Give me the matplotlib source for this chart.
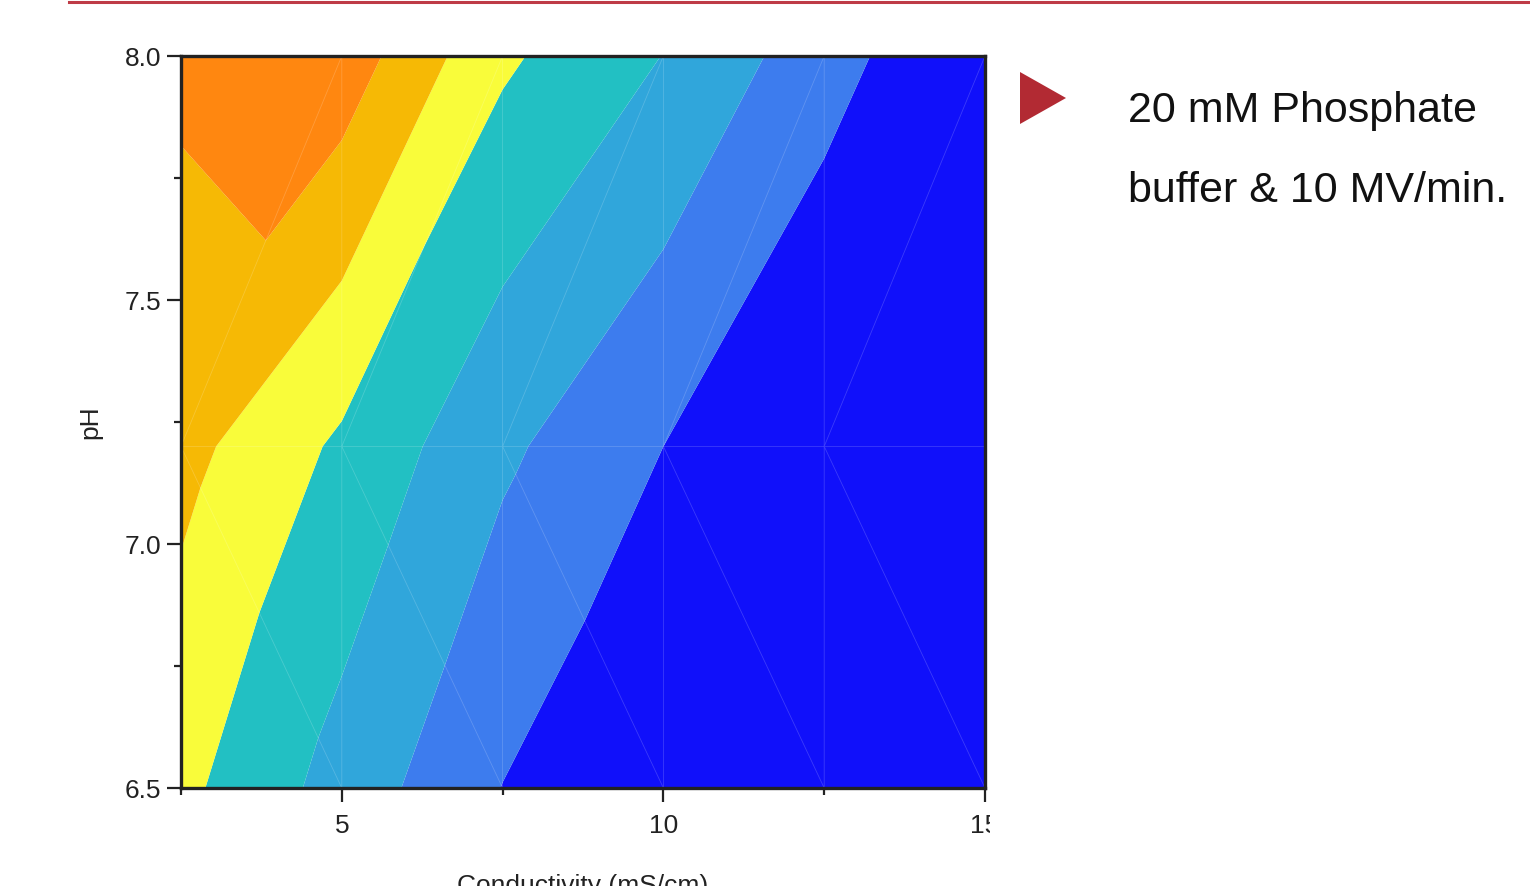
import matplotlib
matplotlib.use("Agg")
import matplotlib.pyplot as plt
import matplotlib.tri as mtri
from matplotlib.lines import Line2D
from matplotlib.patches import Polygon
from matplotlib.transforms import Bbox, TransformedBbox
import numpy as np

plt.rcParams['font.family'] = ['Liberation Sans', 'DejaVu Sans']

# measurement grid: conductivity (mS/cm) x pH
conductivity = [2.5, 5.0, 7.5, 10.0, 12.5, 15.0]
ph = [6.5, 7.2, 8.0]

# response at each grid node, one list per pH row
resp_ph65 = [4.25, 2.60, 0.98, -0.14, -0.60, -1.00]
resp_ph72 = [5.33, 3.82, 2.19, 1.00, -0.18, -0.60]
resp_ph80 = [6.20, 6.60, 4.17, 2.98, 1.42, -0.05]

levels = [-1.5, 1, 2, 3, 4, 5, 6, 7]
band_colors = ['#1010FA', '#3D7CEE', '#30A6DB', '#22C0C3',
               '#F9FC3A', '#F6B905', '#FF8710']

note_lines = ["20 mM Phosphate", "buffer & 10 MV/min."]

W, H = 1530, 886
fig = plt.figure(figsize=(W / 100, H / 100), dpi=100)

# axes box in pixel coords
x0, x1, y0, y1 = 181, 985, 56, 788
ax = fig.add_axes([x0 / W, 1 - y1 / H, (x1 - x0) / W, (y1 - y0) / H])

X, Y = np.meshgrid(conductivity, ph)
Z = np.array([resp_ph65, resp_ph72, resp_ph80])
nx = len(conductivity)

# fixed triangulation: "\" diagonals in the lower row, "/" in the upper row
tris = []
for c in range(nx - 1):
    a, b = c, c + 1
    tris.append([a, b, nx + a])
    tris.append([b, nx + b, nx + a])
    tris.append([nx + a, nx + b, 2 * nx + b])
    tris.append([nx + a, 2 * nx + b, 2 * nx + a])
tri = mtri.Triangulation(X.ravel(), Y.ravel(), tris)

ax.tricontourf(tri, Z.ravel(), levels=levels, colors=band_colors, antialiased=True)
ax.triplot(tri, color='white', lw=0.6, alpha=0.18)

ax.set_xlim(2.5, 15)
ax.set_ylim(6.5, 8.0)
ax.set_xticks([5, 10, 15])
ax.set_xticks([2.5, 7.5, 12.5], minor=True)
ax.set_yticks([6.5, 7.0, 7.5, 8.0])
ax.set_yticklabels(['6.5', '7.0', '7.5', '8.0'])
ax.set_yticks([6.75, 7.25, 7.75], minor=True)

for s in ax.spines.values():
    s.set_linewidth(2.4)
    s.set_color('#222222')
ax.tick_params(which='major', length=10, width=1.6, color='#222222',
               labelsize=19, labelcolor='#222222', pad=4)
ax.tick_params(axis='x', which='major', pad=9)
ax.tick_params(which='minor', length=5, width=1.6, color='#222222')

ax.set_xlabel("Conductivity (mS/cm)", fontsize=19, color='#222222', labelpad=26)
ax.set_ylabel("pH", fontsize=19, color='#222222', labelpad=16)

# the text panel on the right hides part of the last tick label
clip = TransformedBbox(Bbox([[0, 0], [990 / W, 1]]), fig.transFigure)
for lab in ax.get_xticklabels():
    lab.set_clip_box(clip)
    lab.set_clip_on(True)

# red rule along the top
fig.add_artist(Line2D([69 / W, 1], [1 - 1.5 / H, 1 - 1.5 / H],
                      transform=fig.transFigure, color='#BE3B46', lw=2.2))

# red bullet triangle
tri_px = [(1020, 72), (1066, 98), (1020, 124)]
fig.add_artist(Polygon([(px / W, 1 - py / H) for px, py in tri_px],
                       closed=True, transform=fig.transFigure,
                       facecolor='#B22A33', edgecolor='none'))

for i, line in enumerate(note_lines):
    fig.text(1128 / W, 1 - (122 + 80 * i) / H, line, fontsize=31,
             color='#111111', ha='left', va='baseline')

fig.savefig("out.png", dpi=100)
